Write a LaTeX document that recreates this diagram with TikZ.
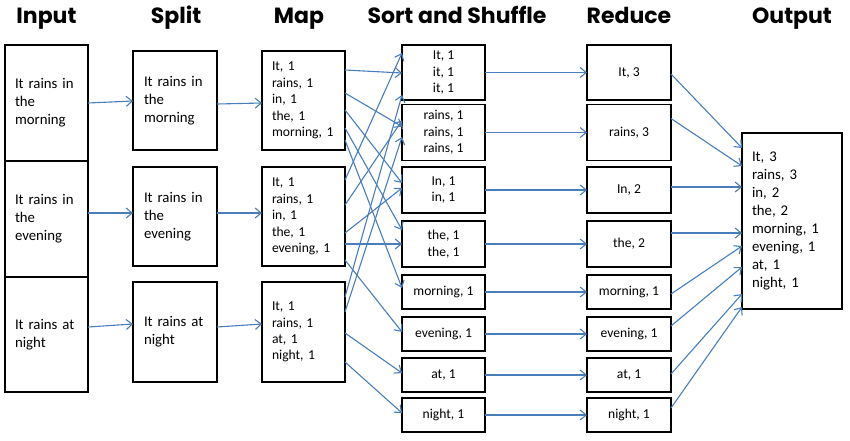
\documentclass[tikz,border=0pt]{standalone}
\usepackage{fontspec}
\setmainfont{Carlito}
\newfontfamily\headfont{Poppins}
\usetikzlibrary{arrows.meta,calc}
\definecolor{arrowblue}{RGB}{74,126,187}
\begin{document}
\begin{tikzpicture}[x=1pt,y=-1pt,
  head/.style={font=\headfont\bfseries\fontsize{22}{26}\selectfont, anchor=base, inner sep=0pt},
  box/.style={draw=black, line width=1.2pt, inner sep=0pt, outer sep=0pt},
  bigtext/.style={font=\fontsize{14.8}{18}\selectfont},
  smalltext/.style={font=\fontsize{13.6}{16.4}\selectfont},
  inbox/.style={box, bigtext, text width=63pt, inner xsep=10pt, align=left},
  spbox/.style={box, bigtext, text width=62pt, inner xsep=11pt, align=left, minimum height=99pt},
  mapbox/.style={box, smalltext, text width=63pt, inner xsep=10pt, align=left, minimum height=99pt},
  sortbox/.style={box, smalltext, minimum width=83pt, align=center},
  redbox/.style={box, smalltext, minimum width=84pt, align=center},
  conn/.style={draw=arrowblue, line width=1.1pt, -{Straight Barb[length=6pt,width=10pt]}}
]
\useasboundingbox (0,0) rectangle (850,440);

% headers
\node[head] (hin) at (46.5,23) {Input};
\node[head] (hsp) at (176,23) {Split};
\node[head] (hmap) at (299,23) {Map};
\node[head] (hsort) at (457,23) {Sort and Shuffle};
\node[head] (hred) at (629,23) {Reduce};
\node[head] (hout) at (792,23) {Output};

% input
\node[inbox, minimum height=116pt] (in1) at (46.5,103) {It rains in\\the\\morning};
\node[inbox, minimum height=116pt] (in2) at (46.5,219) {It rains in\\the\\evening};
\node[inbox, minimum height=115pt] (in3) at (46.5,334.5) {It rains at\\night};

% split
\node[spbox] (sp1) at (175,100.5) {It rains in\\the\\morning};
\node[spbox] (sp2) at (175,216.5) {It rains in\\the\\evening};
\node[spbox, minimum height=100pt] (sp3) at (175,332) {It rains at\\night};

% map
\node[mapbox] (m1) at (303.5,100.5) {It, 1\\rains, 1\\in, 1\\the, 1\\morning, 1};
\node[mapbox] (m2) at (303.5,216.5) {It, 1\\rains, 1\\in, 1\\the, 1\\evening, 1};
\node[mapbox, minimum height=100pt] (m3) at (303.5,332) {It, 1\\rains, 1\\at, 1\\night, 1};

% sort and shuffle
\node[sortbox, minimum height=55pt] (s1) at (443.5,72.5) {It, 1\\it, 1\\it, 1};
\node[sortbox, minimum height=56pt] (s2) at (443.5,132.5) {rains, 1\\rains, 1\\rains, 1};
\node[sortbox, minimum height=46pt] (s3) at (443.5,190) {In, 1\\in, 1};
\node[sortbox, minimum height=46pt] (s4) at (443.5,244) {the, 1\\the, 1};
\node[sortbox, minimum height=34pt] (s5) at (443.5,292) {morning, 1};
\node[sortbox, minimum height=34pt] (s6) at (443.5,334) {evening, 1};
\node[sortbox, minimum height=34pt] (s7) at (443.5,375) {at, 1};
\node[sortbox, minimum height=34pt] (s8) at (443.5,415) {night, 1};

% reduce
\node[redbox, minimum height=55pt] (r1) at (629,72.5) {It, 3};
\node[redbox, minimum height=56pt] (r2) at (629,132.5) {rains, 3};
\node[redbox, minimum height=46pt] (r3) at (629,190) {In, 2};
\node[redbox, minimum height=46pt] (r4) at (629,244) {the, 2};
\node[redbox, minimum height=34pt] (r5) at (629,292) {morning, 1};
\node[redbox, minimum height=34pt] (r6) at (629,334) {evening, 1};
\node[redbox, minimum height=34pt] (r7) at (629,375) {at, 1};
\node[redbox, minimum height=34pt] (r8) at (629,415) {night, 1};

% output
\node[box, bigtext, text width=80pt, inner xsep=10pt, align=left, minimum height=176pt] (out) at (792,221)
  {It, 3\\rains, 3\\in, 2\\the, 2\\morning, 1\\evening, 1\\at, 1\\night, 1};

% input -> split
\draw[conn] (in1.east) -- ($(sp1.west)+(0,0.5)$);
\draw[conn] ($(in2.east)+(0,-6)$) -- ($(sp2.west)+(0,-3.5)$);
\draw[conn] ($(in3.east)+(0,-7.5)$) -- ($(sp3.west)+(0,-8)$);

% split -> map
\draw[conn] ($(sp1.east)+(0,3.5)$) -- ($(m1.west)+(0,2.5)$);
\draw[conn] ($(sp2.east)+(0,-3.5)$) -- ($(m2.west)+(0,-3.5)$);
\draw[conn] ($(sp3.east)+(0,-5)$) -- ($(m3.west)+(0,-8)$);

% map -> sort
\draw[conn] ($(m1.east)+(0,-30.5)$) -- ($(s1.west)+(0,0.5)$);
\draw[conn] ($(m1.east)+(0,-7.5)$) -- ($(s2.west)+(0,-6)$);
\draw[conn] ($(m1.east)+(0,9.5)$) -- ($(s3.west)+(0,-7)$);
\draw[conn] ($(m1.east)+(0,27.5)$) -- ($(s4.west)+(0,-14)$);
\draw[conn] ($(m1.east)+(0,39.5)$) -- ($(s5.west)+(0,-4)$);

\draw[conn] ($(m2.east)+(0,-36.5)$) -- ($(s1.west)+(0,-19.5)$);
\draw[conn] ($(m2.east)+(0,-11.5)$) -- ($(s2.west)+(0,-12)$);
\draw[conn] ($(m2.east)+(0,16.5)$) -- ($(s3.west)+(0,-2)$);
\draw[conn] ($(m2.east)+(0,27.5)$) -- ($(s4.west)+(0,0)$);
\draw[conn] ($(m2.east)+(0,43.5)$) -- ($(s6.west)+(0,-2)$);

\draw[conn] ($(m3.east)+(0,-35)$) -- ($(s1.west)+(0,22.5)$);
\draw[conn] ($(m3.east)+(0,-20)$) -- ($(s2.west)+(0,4.5)$);
\draw[conn] ($(m3.east)+(0,1)$) -- ($(s7.west)+(0,-2)$);
\draw[conn] ($(m3.east)+(0,30)$) -- ($(s8.west)+(0,-2)$);

% sort -> reduce
\foreach \i in {1,...,8} {
  \draw[conn] (s\i.east) -- (r\i.west);
}

% reduce -> output
\draw[conn] ($(r1.east)+(0,1.5)$) -- ($(out.west)+(0,-73)$);
\draw[conn] ($(r2.east)+(0,-14)$) -- ($(out.west)+(0,-55)$);
\draw[conn] ($(r3.east)+(0,-3)$) -- ($(out.west)+(0,-34)$);
\draw[conn] ($(r4.east)+(0,-11)$) -- ($(out.west)+(0,12)$);
\draw[conn] ($(r5.east)+(0,2)$) -- ($(out.west)+(0,25)$);
\draw[conn] ($(r6.east)+(0,-8)$) -- ($(out.west)+(0,46)$);
\draw[conn] ($(r7.east)+(0,-1)$) -- ($(out.west)+(0,73)$);
\draw[conn] ($(r8.east)+(0,-7)$) -- ($(out.west)+(0,86)$);
\end{tikzpicture}
\end{document}
